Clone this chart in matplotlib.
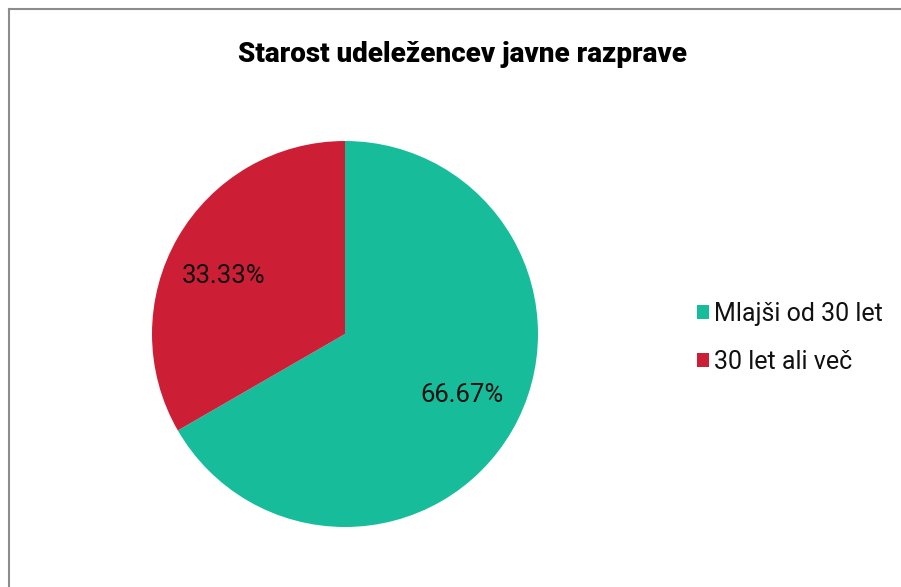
import matplotlib
matplotlib.use("Agg")
import matplotlib.pyplot as plt
from matplotlib.patches import Patch
from matplotlib.lines import Line2D

categories = ["Mlajši od 30 let", "30 let ali več"]
values = [66.67, 33.33]
colors = ["#17BD9A", "#CC1F36"]
title = "Starost udeležencev javne razprave"

W, H = 901, 587
fig = plt.figure(figsize=(W / 100, H / 100), dpi=100)
fig.patch.set_facecolor("white")

# frame lines (left and top)
fig.add_artist(Line2D([9 / W, 9 / W], [0, 1 - 9 / H], color="#8c8c8c", lw=1.5, transform=fig.transFigure))
fig.add_artist(Line2D([9 / W, 1], [1 - 9 / H, 1 - 9 / H], color="#8c8c8c", lw=1.5, transform=fig.transFigure))

cx, cy, r = 345, 334, 193
ax = fig.add_axes([(cx - r) / W, (H - cy - r) / H, 2 * r / W, 2 * r / H])
wedges, texts, autotexts = ax.pie(
    values, colors=colors, startangle=90, counterclock=False,
    autopct="%.2f%%", pctdistance=0.7, radius=1,
    textprops=dict(fontsize=18.5, color="#111111", family="Roboto"),
)
# label placement nudged like the original (slightly off the mid-angle)
label_pos = [(0.606, -0.315), (-0.627, 0.300)]
for t, p in zip(autotexts, label_pos):
    t.set_position(p)
ax.set_xlim(-1, 1)
ax.set_ylim(-1, 1)
ax.set_aspect("equal")
ax.axis("off")

fig.text(462 / W, 1 - 55 / H, title, ha="center", va="center",
         fontsize=20, fontweight=900, family="Roboto", color="black")

handles = [Patch(facecolor=c, edgecolor="none") for c in colors]
leg = fig.legend(handles, categories, loc="center left",
                 bbox_to_anchor=(689 / W, 1 - 338 / H), frameon=False,
                 prop=dict(family="Roboto", size=18),
                 handlelength=0.5, handleheight=0.5, handletextpad=0.2,
                 labelspacing=0.95, borderpad=0.3, borderaxespad=0)
for t in leg.get_texts():
    t.set_color("#111111")

fig.savefig("out.png", dpi=100, facecolor="white")
